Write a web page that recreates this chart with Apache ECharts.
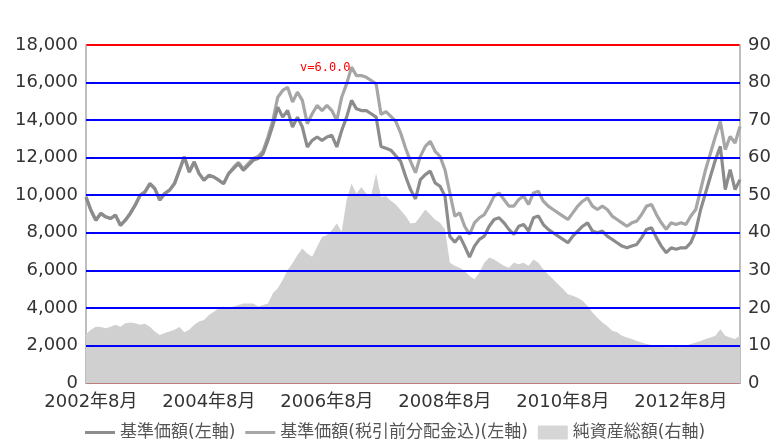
<!DOCTYPE html>
<html>
<head>
<meta charset="utf-8">
<script src="https://cdn.jsdelivr.net/npm/echarts@6/dist/echarts.min.js"></script>
<style>
html,body{margin:0;padding:0;background:#fff;}
#chart{width:779px;height:446px;}
#dbg{position:absolute;left:300px;top:60px;font:12px monospace;color:red;}
</style>
</head>
<body>
<div id="chart"></div>
<div id="dbg"></div>
<script>
window.onerror = function (m) { document.getElementById('dbg').textContent += ' ERR:' + m; };
const startYear = 2002, startMonth = 7, monthCount = 134;
const categories = [];
for (let i = 0; i < monthCount; i++) {
  const t = startMonth - 1 + i;
  categories.push((startYear + Math.floor(t / 12)) + '年' + (t % 12 + 1) + '月');
}
const navBase = [
  9900, 9200, 8670, 9030, 8850, 8760, 8940, 8400, 8670, 9030,
  9470, 10000, 10180, 10620, 10350, 9740, 10090, 10270, 10620, 11330,
  12040, 11240, 11770, 11150, 10800, 11060, 10970, 10800, 10620, 11150,
  11420, 11680, 11330, 11590, 11860, 11950, 12210, 12920, 13720, 14690,
  14160, 14510, 13630, 14160, 13630, 12570, 12920, 13100, 12920, 13100,
  13190, 12570, 13450, 14160, 15050, 14600, 14510, 14510, 14340, 14160,
  12600, 12500, 12400, 12100, 11800, 11000, 10300, 9800, 10830, 11100,
  11280, 10660, 10480, 9950, 7800, 7500, 7820, 7290, 6700, 7290,
  7650, 7820, 8350, 8710, 8800, 8530, 8180, 7910, 8350, 8440,
  8090, 8800, 8890, 8440, 8180, 8000, 7820, 7650, 7470, 7820,
  8090, 8350, 8530, 8090, 8000, 8090, 7820, 7650, 7470, 7290,
  7200, 7290, 7380, 7740, 8180, 8270, 7740, 7290, 6940, 7200,
  7120, 7200, 7200, 7470, 8090, 9240, 10120, 11010, 11890, 12600,
  10300, 11360, 10300, 10830
];
const navWithDist = [
  9900, 9200, 8670, 9030, 8850, 8760, 8940, 8400, 8670, 9030,
  9470, 10000, 10180, 10620, 10350, 9740, 10090, 10270, 10620, 11330,
  12040, 11240, 11770, 11150, 10800, 11060, 10970, 10800, 10620, 11150,
  11480, 11750, 11400, 11680, 11960, 12060, 12350, 13100, 13980, 15220,
  15580, 15750, 14960, 15490, 15050, 13810, 14340, 14780, 14510, 14780,
  14510, 13980, 15220, 15930, 16820, 16370, 16370, 16280, 16110, 15930,
  14300, 14450, 14200, 13930, 13300, 12500, 11800, 11200, 12070, 12600,
  12870, 12340, 12070, 11360, 10120, 8890, 9060, 8350, 7910, 8530,
  8800, 8970, 9420, 9950, 10120, 9770, 9420, 9420, 9770, 9950,
  9510, 10120, 10210, 9680, 9420, 9240, 9060, 8890, 8710, 9060,
  9420, 9680, 9860, 9420, 9240, 9420, 9240, 8890, 8710, 8530,
  8350, 8530, 8620, 8970, 9420, 9510, 8970, 8530, 8180, 8530,
  8440, 8530, 8440, 8890, 9240, 10300, 11360, 12250, 13130, 13930,
  12430, 13130, 12780, 13660
];
const netAssets = [
  13.0, 14.2, 15.0, 14.9, 14.6, 15.0, 15.5, 15.0, 15.9, 16.1,
  15.9, 15.5, 15.8, 15.0, 13.7, 12.8, 13.3, 13.7, 14.2, 14.9,
  13.5, 14.2, 15.5, 16.4, 16.8, 18.1, 19.0, 19.9, 20.4, 19.9,
  20.4, 20.8, 21.2, 21.2, 21.2, 20.4, 20.8, 21.2, 23.9, 25.2,
  27.4, 30.1, 31.9, 34.1, 35.8, 34.5, 33.6, 36.3, 38.9, 39.4,
  40.7, 42.5, 40.3, 48.7, 53.1, 50.4, 52.2, 50.4, 50.0, 55.8,
  49.5, 49.7, 48.5, 47.5, 46.0, 44.5, 42.5, 42.7, 44.4, 46.2,
  44.9, 43.5, 42.7, 40.9, 32.0, 31.2, 30.7, 29.8, 28.5, 27.6,
  29.4, 32.0, 33.4, 32.9, 32.0, 31.2, 30.7, 32.0, 31.6, 32.0,
  31.2, 32.9, 32.0, 30.3, 28.9, 27.6, 26.3, 25.0, 23.6, 23.2,
  22.7, 21.9, 20.5, 18.8, 17.4, 16.1, 15.2, 13.9, 13.5, 12.6,
  12.1, 11.7, 11.2, 10.8, 10.4, 10.1, 9.9, 9.6, 9.5, 9.5,
  9.6, 9.5, 9.9, 10.4, 10.8, 11.2, 11.7, 12.1, 12.6, 14.3,
  12.6, 12.1, 11.7, 12.6
];
const seriesNames = ['基準価額(左軸)', '基準価額(税引前分配金込)(左軸)', '純資産総額(右軸)'];
const leftTicks = { min: 0, max: 18000, interval: 2000, name: '(円)' };
const rightTicks = { min: 0, max: 90, interval: 10, name: '(億円)' };
const gridLevels = [10, 20, 30, 40, 50, 60, 70, 80];
function isMajor(v) {
  const m = /^(\d+)年(\d+)月$/.exec(v);
  return !!(m && m[2] === '8' && (parseInt(m[1]) % 2 === 0));
}
const FONT = '"DejaVu Sans", "Noto Sans CJK JP", sans-serif';
const lineIcon = 'path://M0,0L30,0L30,3L0,3Z';
const FRAME = { color: '#a8a8a8', width: 1.5 };
const chart = echarts.init(document.getElementById('chart'), null, { renderer: 'canvas' });
chart.setOption({
  animation: false,
  backgroundColor: '#ffffff',
  textStyle: { fontFamily: FONT },
  legend: {
    left: 80, top: 419, itemWidth: 30, itemHeight: 14, itemGap: 10,
    textStyle: { fontFamily: FONT, fontSize: 17, color: '#555' },
    data: [
      { name: seriesNames[0], icon: lineIcon, itemStyle: { color: '#8c8c8c' } },
      { name: seriesNames[1], icon: lineIcon, itemStyle: { color: '#a6a6a6' } },
      { name: seriesNames[2], icon: 'rect', itemStyle: { color: '#d6d6d6' } }
    ]
  },
  grid: { left: 86, right: 39, top: 45, bottom: 63 },
  xAxis: [{
    type: 'category', data: categories, boundaryGap: false,
    axisLine: { show: true, lineStyle: FRAME },
    axisTick: { show: true, inside: true, length: 6, interval: (i, v) => isMajor(v), lineStyle: { color: '#888', width: 1.2 } },
    axisLabel: { interval: (i, v) => isMajor(v), fontSize: 18, color: '#333', margin: 10 },
    splitLine: { show: false }
  }],
  yAxis: [{
    type: 'value', min: 0, max: 18000, interval: 2000,
    axisLine: { show: true, lineStyle: FRAME },
    axisLabel: { fontSize: 18, color: '#333', formatter: v => v.toLocaleString('en-US') },
    splitLine: { show: true, lineStyle: { color: '#ff0000', width: 2, type: 'solid' } }
  }, {
    type: 'value', min: 0, max: 90, interval: 10, position: 'right',
    axisLine: { show: true, lineStyle: FRAME },
    axisLabel: { fontSize: 18, color: '#333' },
    splitLine: { show: false }
  }],
  series: [{
    name: seriesNames[0], type: 'line', data: navBase, symbol: 'none', z: 4,
    lineStyle: { color: '#8c8c8c', width: 3.2 }
  }, {
    name: seriesNames[1], type: 'line', data: navWithDist, symbol: 'none', z: 3,
    lineStyle: { color: '#a6a6a6', width: 3.2 }
  }, {
    name: seriesNames[2], type: 'line', data: netAssets, yAxisIndex: 1, symbol: 'none', z: 1,
    lineStyle: { width: 0 },
    areaStyle: { opacity: 1, color: '#d0d0d0' },
    markLine: {
      silent: true, symbol: ['none', 'none'], label: { show: false },
      lineStyle: { color: '#0000ff', width: 2, type: 'solid' },
      data: gridLevels.map(v => ({ yAxis: v }))
    }
  }]
});
document.getElementById('dbg').textContent += 'v=' + echarts.version;
</script>
</body>
</html>
